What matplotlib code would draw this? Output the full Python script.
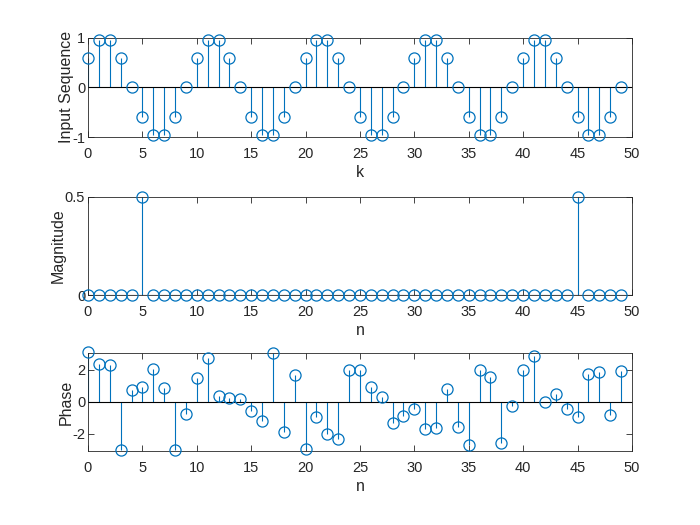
import matplotlib
matplotlib.use('Agg')
import matplotlib.pyplot as plt

plt.rcParams['font.family'] = ['Liberation Sans', 'DejaVu Sans']

BLUE = '#0072BD'

n = list(range(50))

x_seq = [0.59, 0.95, 0.95, 0.59, 0, -0.59, -0.95, -0.95, -0.59, 0,
         0.59, 0.95, 0.95, 0.59, 0, -0.59, -0.95, -0.95, -0.59, 0,
         0.59, 0.95, 0.95, 0.59, 0, -0.59, -0.95, -0.95, -0.59, 0,
         0.59, 0.95, 0.95, 0.59, 0, -0.59, -0.95, -0.95, -0.59, 0,
         0.59, 0.95, 0.95, 0.59, 0, -0.59, -0.95, -0.95, -0.59, 0]

magnitude = [0, 0, 0, 0, 0, 0.5, 0, 0, 0, 0,
             0, 0, 0, 0, 0, 0, 0, 0, 0, 0,
             0, 0, 0, 0, 0, 0, 0, 0, 0, 0,
             0, 0, 0, 0, 0, 0, 0, 0, 0, 0,
             0, 0, 0, 0, 0, 0.5, 0, 0, 0, 0]

phase = [3.12, 2.36, 2.32, -3.03, 0.74, 0.93, 2.06, 0.86, -3.03, -0.76,
         1.52, 2.74, 0.36, 0.27, 0.15, -0.57, -1.18, 3.03, -1.89, 1.68,
         -2.95, -0.93, -2.02, -2.29, 2.00, 2.02, 0.95, 0.32, -1.31, -0.86,
         -0.44, -1.68, -1.62, 0.82, -1.60, -2.69, 1.98, 1.58, -2.55, -0.25,
         2.02, 2.88, -0.02, 0.48, -0.44, -0.95, 1.73, 1.87, -0.80, 1.96]


def stemPlot(ax, x, y, xlabel, ylabel, ylim, yticks, yticklabels):
    markers, stems, base = ax.stem(x, y, linefmt='-', markerfmt='o', basefmt=' ')
    plt.setp(stems, color=BLUE, linewidth=0.8)
    plt.setp(markers, markerfacecolor='none', markeredgecolor=BLUE,
             markersize=8, markeredgewidth=0.9, clip_on=False, zorder=3)
    ax.axhline(0, color='black', linewidth=0.8, zorder=2)
    ax.set_xlim(0, 50)
    ax.set_ylim(*ylim)
    ax.set_xticks(range(0, 51, 5))
    ax.set_yticks(yticks)
    ax.set_yticklabels(yticklabels)
    ax.tick_params(direction='in', top=True, right=True, labelsize=10.5,
                   length=4, width=0.6, colors='#262626')
    ax.tick_params(axis='x', pad=7)
    ax.tick_params(axis='y', pad=2)
    for sp in ax.spines.values():
        sp.set_linewidth(0.6)
        sp.set_color('#262626')
    ax.set_xlabel(xlabel, fontsize=11.5, color='#262626', labelpad=3)
    ax.set_ylabel(ylabel, fontsize=11.5, color='#262626', labelpad=-1)


fig = plt.figure(figsize=(7, 5.25), dpi=100)
ax1 = fig.add_axes([0.1257, 0.739, 0.777, 0.189])
ax2 = fig.add_axes([0.1257, 0.438, 0.777, 0.187])
ax3 = fig.add_axes([0.1257, 0.141, 0.777, 0.187])

stemPlot(ax1, n, x_seq, 'k', 'Input Sequence', (-1, 1), [-1, 0, 1], ['-1', '0', '1'])
stemPlot(ax2, n, magnitude, 'n', 'Magnitude', (0, 0.5), [0, 0.5], ['0', '0.5'])
stemPlot(ax3, n, phase, 'n', 'Phase', (-3.07, 3.07), [-2, 0, 2], ['-2', '0', '2'])

fig.savefig('out.png', dpi=100)
